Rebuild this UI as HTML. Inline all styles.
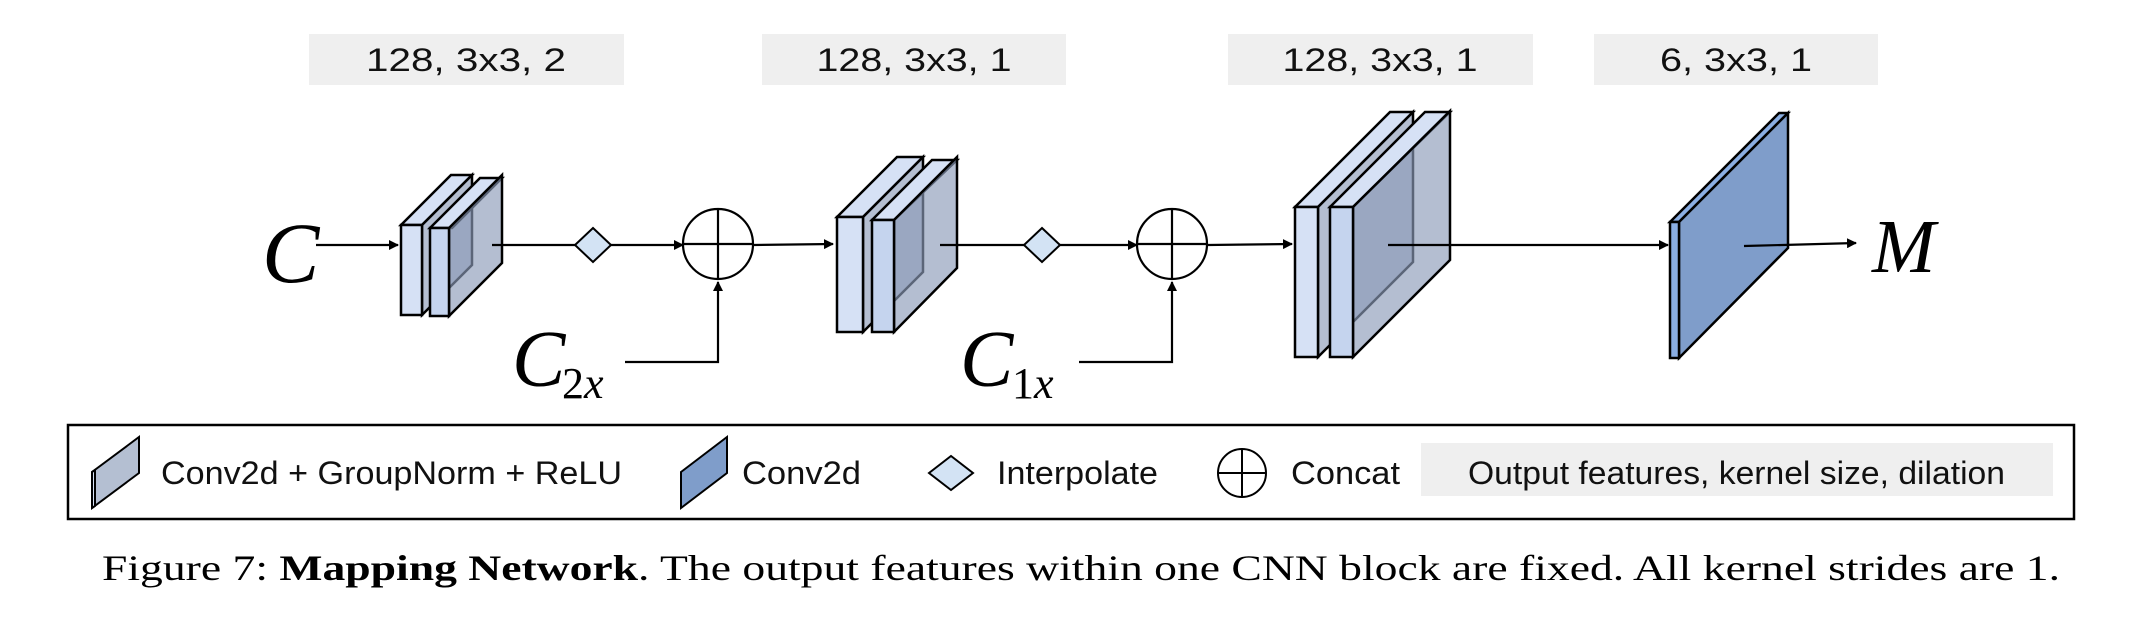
<!DOCTYPE html>
<html><head><meta charset="utf-8"><style>
html,body{margin:0;padding:0;background:#fff;}
svg{display:block;}
.lab{font-family:"Liberation Sans",sans-serif;font-size:32px;fill:#111;}
.math{font-family:"Liberation Serif",serif;font-style:italic;fill:#000;}
</style></head><body>
<svg width="2142" height="620" viewBox="0 0 2142 620" xmlns="http://www.w3.org/2000/svg">
<defs>
<marker id="ar" markerWidth="10" markerHeight="10" refX="9" refY="5" orient="auto" markerUnits="userSpaceOnUse">
<path d="M0,0 L10,5 L0,10 z" fill="#000"/></marker>
</defs>
<!-- label boxes -->
<rect x="309" y="34" width="315" height="51" fill="#efefef"/>
<text class="lab" x="466" y="71" text-anchor="middle" textLength="200" lengthAdjust="spacingAndGlyphs">128, 3x3, 2</text>
<rect x="762" y="34" width="304" height="51" fill="#efefef"/>
<text class="lab" x="914" y="71" text-anchor="middle" textLength="195" lengthAdjust="spacingAndGlyphs">128, 3x3, 1</text>
<rect x="1228" y="34" width="305" height="51" fill="#efefef"/>
<text class="lab" x="1380" y="71" text-anchor="middle" textLength="195" lengthAdjust="spacingAndGlyphs">128, 3x3, 1</text>
<rect x="1594" y="34" width="284" height="51" fill="#efefef"/>
<text class="lab" x="1736" y="71" text-anchor="middle" textLength="152" lengthAdjust="spacingAndGlyphs">6, 3x3, 1</text>

<g stroke="#000" stroke-width="2.5" stroke-linejoin="miter">
<!-- block1 -->
<g>
<polygon points="401,225 451,175 472,175 422,225" fill="#d6e1f5"/>
<polygon points="422,225 472,175 472,265 422,315" fill="rgba(140,155,185,0.65)"/>
<rect x="401" y="225" width="21" height="90" fill="#d6e1f5"/>
<polygon points="430,228 480,178 502,178 452,228" fill="#d6e1f5"/>
<polygon points="449,228 502,175 502,263 449,316" fill="rgba(140,155,185,0.65)"/>
<rect x="430" y="228" width="19" height="88" fill="#c5d4ee"/>
</g>
<!-- block2 -->
<g>
<polygon points="837,217 897,157 923,157 863,217" fill="#d6e1f5"/>
<polygon points="863,217 923,157 923,272 863,332" fill="rgba(140,155,185,0.65)"/>
<rect x="837" y="217" width="26" height="115" fill="#d6e1f5"/>
<polygon points="872,220 932,160 957,160 894,220" fill="#d6e1f5"/>
<polygon points="894,220 957,157 957,268 894,332" fill="rgba(140,155,185,0.65)"/>
<rect x="872" y="220" width="22" height="112" fill="#c5d4ee"/>
</g>
<!-- block3 -->
<g>
<polygon points="1295,207 1390,112 1413,112 1318,207" fill="#d6e1f5"/>
<polygon points="1318,207 1413,112 1413,262 1318,357" fill="rgba(140,155,185,0.65)"/>
<rect x="1295" y="207" width="23" height="150" fill="#d6e1f5"/>
<polygon points="1330,207 1425,112 1450,112 1353,207" fill="#d6e1f5"/>
<polygon points="1353,207 1450,111 1450,260 1353,357" fill="rgba(140,155,185,0.65)"/>
<rect x="1330" y="207" width="23" height="150" fill="#c5d4ee"/>
</g>
<!-- block4 -->
<g>
<polygon points="1670,222 1779,113 1788,113 1679,222" fill="#8aaee3"/>
<polygon points="1679,222 1788,113 1788,248 1679,358" fill="#7f9dca"/>
<rect x="1670" y="222" width="9" height="136" fill="#8aaee3"/>
</g>
</g>

<g stroke="#000" stroke-width="2.2" fill="none">
<line x1="316" y1="245" x2="398" y2="245" marker-end="url(#ar)"/>
<line x1="492" y1="245" x2="576" y2="245"/>
<line x1="611" y1="245" x2="683" y2="245" marker-end="url(#ar)"/>
<line x1="753" y1="245" x2="833" y2="244" marker-end="url(#ar)"/>
<line x1="940" y1="245" x2="1024" y2="245"/>
<line x1="1060" y1="245" x2="1137" y2="245" marker-end="url(#ar)"/>
<line x1="1208" y1="245" x2="1292" y2="244" marker-end="url(#ar)"/>
<line x1="1388" y1="245" x2="1668" y2="245" marker-end="url(#ar)"/>
<line x1="1744" y1="246" x2="1856" y2="243" marker-end="url(#ar)"/>
<polyline points="625,362 718,362 718,282" marker-end="url(#ar)"/>
<polyline points="1079,362 1172,362 1172,282" marker-end="url(#ar)"/>
<circle cx="718" cy="244" r="35"/>
<line x1="683" y1="244" x2="753" y2="244"/><line x1="718" y1="209" x2="718" y2="279"/>
<circle cx="1172" cy="244" r="35"/>
<line x1="1137" y1="244" x2="1207" y2="244"/><line x1="1172" y1="209" x2="1172" y2="279"/>
</g>
<polygon points="593,228 611,245 593,262 575,245" fill="#d3e3f4" stroke="#000" stroke-width="2"/>
<polygon points="1042,228 1060,245 1042,262 1024,245" fill="#d3e3f4" stroke="#000" stroke-width="2"/>

<text class="math" x="262" y="282" font-size="86">C</text>
<text class="math" x="512" y="386" font-size="80">C</text>
<text x="562" y="398" font-size="44" font-family="Liberation Serif,serif">2<tspan font-style="italic">x</tspan></text>
<text class="math" x="960" y="386" font-size="80">C</text>
<text x="1012" y="398" font-size="44" font-family="Liberation Serif,serif">1<tspan font-style="italic">x</tspan></text>
<text class="math" x="1872" y="272" font-size="76">M</text>

<!-- legend -->
<rect x="68" y="425" width="2006" height="94" fill="none" stroke="#000" stroke-width="2.5"/>
<g stroke="#000" stroke-width="2">
<polygon points="92,472 139,437 139,473 92,508" fill="#b4bfd2"/>
<polygon points="92,472 95,470 95,506 92,508" fill="#d6e1f5"/>
<polygon points="681,472 727,437 727,473 681,508" fill="#7f9dca"/>
<polygon points="929,473 951,456 973,473 951,490" fill="#d3e3f4"/>
<ellipse cx="1242" cy="473" rx="24" ry="24" fill="none"/>
<line x1="1218" y1="473" x2="1266" y2="473"/><line x1="1242" y1="449" x2="1242" y2="497"/>
</g>
<text class="lab" x="161" y="484" textLength="461" lengthAdjust="spacingAndGlyphs">Conv2d + GroupNorm + ReLU</text>
<text class="lab" x="742" y="484" textLength="119" lengthAdjust="spacingAndGlyphs">Conv2d</text>
<text class="lab" x="997" y="484" textLength="161" lengthAdjust="spacingAndGlyphs">Interpolate</text>
<text class="lab" x="1291" y="484" textLength="109" lengthAdjust="spacingAndGlyphs">Concat</text>
<rect x="1421" y="443" width="632" height="53" fill="#efefef"/>
<text class="lab" x="1468" y="484" textLength="537" lengthAdjust="spacingAndGlyphs">Output features, kernel size, dilation</text>

<text x="102" y="580" font-family="Liberation Serif,serif" font-size="36" fill="#000" textLength="1958" lengthAdjust="spacingAndGlyphs">Figure 7: <tspan font-weight="bold">Mapping Network</tspan>. The output features within one CNN block are fixed. All kernel strides are 1.</text>
</svg>
</body></html>
